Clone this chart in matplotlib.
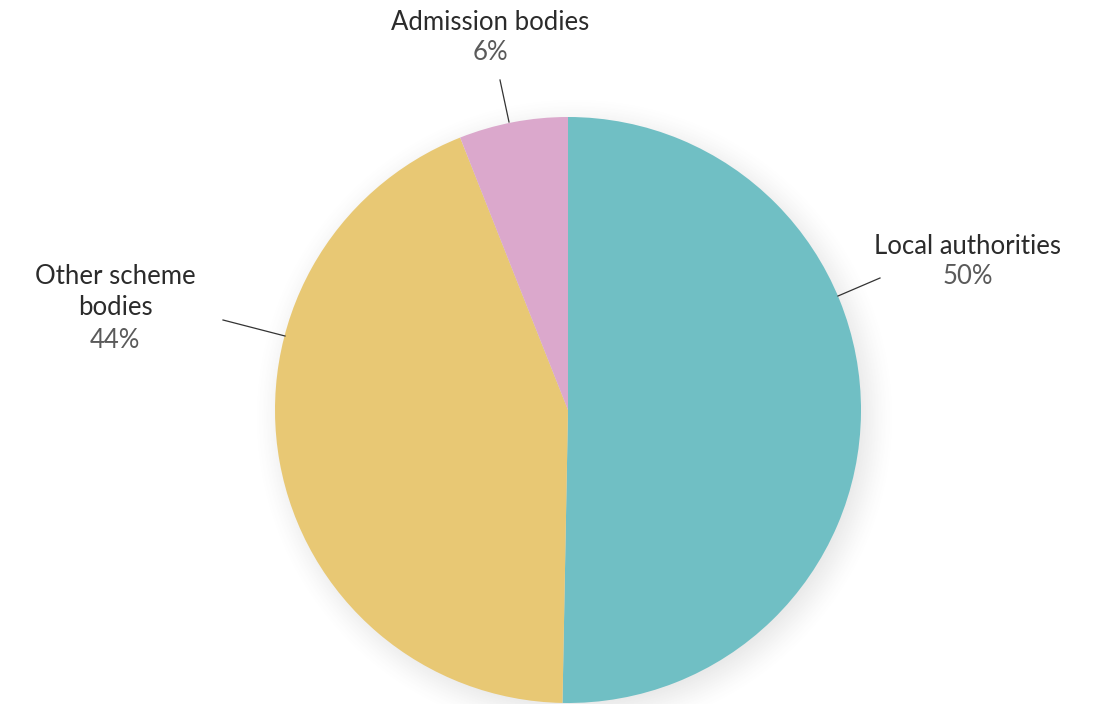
import numpy as np
import matplotlib
matplotlib.use("Agg")
import matplotlib.pyplot as plt

categories = ["Local authorities", "Other scheme\nbodies", "Admission bodies"]
values = [50.3, 43.7, 6.0]
pct_labels = ["50%", "44%", "6%"]
colors = ["#70BFC4", "#E8C874", "#DBA8CC"]

plt.rcParams['font.family'] = ['Lato', 'DejaVu Sans']

W, H = 1103, 704
fig = plt.figure(figsize=(W / 100, H / 100), dpi=100)
ax = fig.add_axes([0, 0, 1, 1])

cx, cy, R = 568, 294, 293

# soft drop shadow
yy, xx = np.mgrid[0:H, 0:W]
d = np.hypot(xx - (cx + 6), (H - 1 - yy) - (cy - 8))
w = 30.0
t = np.clip((R + w - d) / (2 * w), 0, 1)
a = (t * t * (3 - 2 * t)) * 0.18
img = np.zeros((H, W, 4))
img[..., :3] = 0.35
img[..., 3] = a
ax.imshow(img, extent=(0, W, 0, H), origin='upper', zorder=0, interpolation='bilinear')

wedges, _ = ax.pie(values, colors=colors, startangle=90, counterclock=False,
                   center=(cx, cy), radius=R, wedgeprops=dict(linewidth=0),
                   frame=True)
for wdg in wedges:
    wdg.set_zorder(2)

ax.set_xlim(0, W)
ax.set_ylim(0, H)
ax.set_aspect('equal')
ax.axis('off')

# leader lines (pixel coordinates, y from top)
lines = [((838, 296), (880, 278)), ((285, 336), (223, 320)), ((509, 122), (500, 80))]
for (x0, y0), (x1, y1) in lines:
    ax.plot([x0, x1], [H - y0, H - y1], color="#333333", lw=0.9, zorder=3)

name_pos = [(968, 246), (115, 292), (490, 22)]
pct_pos = [(968, 277), (115, 340), (490, 52)]
for cat, pl, (nx, ny), (px, py) in zip(categories, pct_labels, name_pos, pct_pos):
    ax.text(nx, H - ny, cat, ha='center', va='center', fontsize=18.5, color="#2b2b2b",
            linespacing=1.3, zorder=4)
    ax.text(px, H - py, pl, ha='center', va='center', fontsize=18.5, color="#5a5a5a",
            fontweight='normal', zorder=4)

fig.savefig("out.png", dpi=100, facecolor='white')
